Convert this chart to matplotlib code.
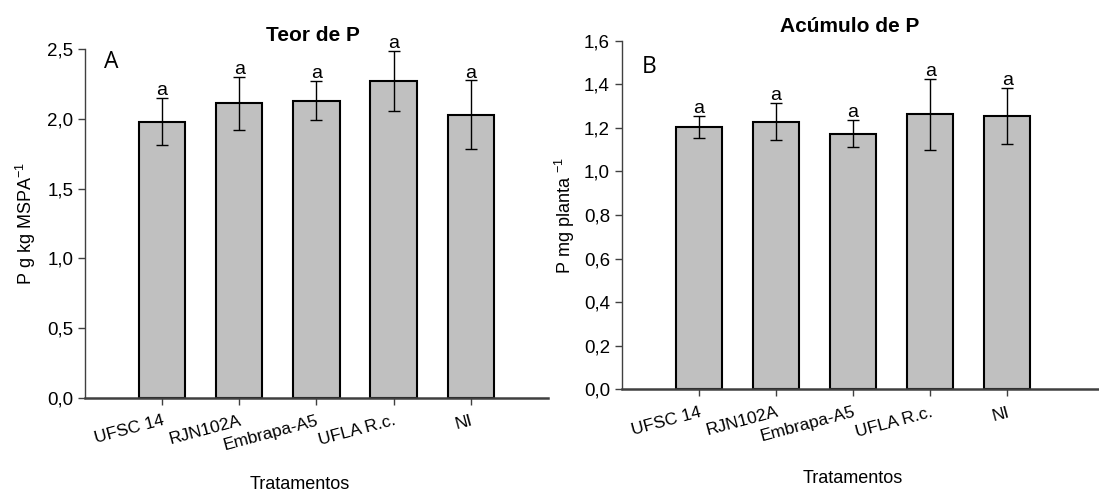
import numpy as np
import matplotlib.pyplot as plt

plt.rcParams['font.family'] = ['Liberation Sans', 'DejaVu Sans']

# Data
tratamentos = ['UFSC 14', 'RJN102A', 'Embrapa-A5', 'UFLA R.c.', 'NI']
teor_p = [1.98, 2.11, 2.13, 2.27, 2.03]
teor_p_err = [0.17, 0.19, 0.14, 0.215, 0.245]
acum_p = [1.204, 1.229, 1.173, 1.262, 1.253]
acum_p_err = [0.052, 0.087, 0.063, 0.164, 0.129]
letras_a = ['a', 'a', 'a', 'a', 'a']
letras_b = ['a', 'a', 'a', 'a', 'a']


def draw_panel(ax, values, errors, letters, ymax, yticks, title, ylabel, tag, xlim_right):
    x = np.arange(len(tratamentos))
    ax.bar(x, values, width=0.6, color='#c0c0c0', edgecolor='black', linewidth=1.5, zorder=2)
    ax.errorbar(x, values, yerr=errors, fmt='none', ecolor='black', elinewidth=1,
                capsize=4, capthick=1, zorder=3)
    for xi, v, e, l in zip(x, values, errors, letters):
        ax.annotate(l, (xi, v + e), xytext=(0, 2), textcoords='offset points',
                    ha='center', va='baseline', fontsize=14)
    ax.set_xlim(-1, xlim_right)
    ax.set_ylim(0, ymax)
    ax.set_yticks(yticks)
    ax.set_yticklabels([('%.1f' % t).replace('.', ',') for t in yticks])
    ax.set_xticks(x)
    ax.set_xticklabels(tratamentos, rotation=15, ha='right', rotation_mode='anchor')
    ax.tick_params(axis='y', labelsize=13.5, direction='out', length=5, width=1,
                   color='#404040')
    ax.tick_params(axis='x', labelsize=12.5, direction='out', length=5, width=1,
                   color='#404040', pad=6)
    for s in ['top', 'right']:
        ax.spines[s].set_visible(False)
    ax.spines['left'].set_color('#404040')
    ax.spines['left'].set_linewidth(1)
    ax.spines['bottom'].set_color('#404040')
    ax.spines['bottom'].set_linewidth(1.8)
    ax.set_ylabel(ylabel, fontsize=13)
    ax.set_xlabel('Tratamentos', fontsize=13)
    ax.text(0.041, 0.997 if tag == 'A' else 0.959, tag, transform=ax.transAxes, fontsize=16.5,
            family=['Open Sans', 'DejaVu Sans'], va='top', ha='left')
    return ax.set_title(title, fontsize=15, fontweight='bold', va='baseline')


fig = plt.figure(figsize=(10.99, 4.91), dpi=100)
ax1 = fig.add_axes([0.0773, 0.1894, 0.4213, 0.7108])
ax2 = fig.add_axes([0.5657, 0.2071, 0.4343, 0.7100])

t1 = draw_panel(ax1, teor_p, teor_p_err, letras_a, 2.5, [0.0, 0.5, 1.0, 1.5, 2.0, 2.5],
                'Teor de P', 'P g kg MSPA$^{\\mathregular{-1}}$', 'A', 5.0)
t2 = draw_panel(ax2, acum_p, acum_p_err, letras_b, 1.6, [0.0, 0.2, 0.4, 0.6, 0.8, 1.0, 1.2, 1.4, 1.6],
                'Acúmulo de P', 'P mg planta $^{\\mathregular{-1}}$', 'B', 5.19)
t1.set_position((0.4925, 1.0487))
t2.set_position((0.478, 1.025))

ax1.xaxis.set_label_coords(0.464, -0.223)
ax2.xaxis.set_label_coords(0.485, -0.232)
ax1.yaxis.set_label_coords(-0.102, 0.50)
ax2.yaxis.set_label_coords(-0.094, 0.50)

fig.savefig('out.png', dpi=100)
